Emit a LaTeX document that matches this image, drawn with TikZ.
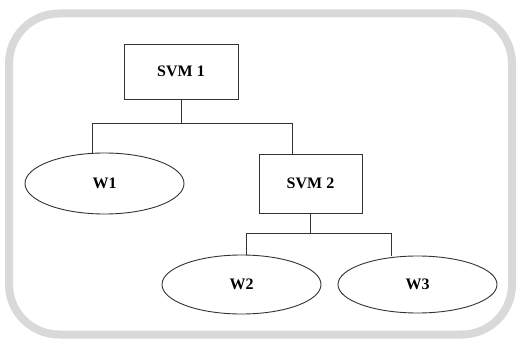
\documentclass[tikz,border=0pt]{standalone}
\usepackage{fontspec}
\setmainfont{Liberation Serif}
\usetikzlibrary{shapes.geometric,shadows}

\tikzset{
  svmbox/.style={draw=black!80,line width=0.9pt,rectangle,inner sep=0pt,font=\fontsize{16}{19}\selectfont\bfseries},
  leaf/.style={draw=black!80,line width=0.9pt,ellipse,inner sep=0pt,minimum width=159pt,font=\fontsize{16}{19}\selectfont\bfseries},
  link/.style={draw=black!80,line width=0.9pt}
}

\begin{document}
\begin{tikzpicture}[x=1pt,y=-1pt]
        \useasboundingbox (0,0) rectangle (521,344);
        % frame
        \draw[black!15,line width=8pt,rounded corners=50pt,fill=white,
              drop shadow={opacity=0.45,shadow xshift=2.5pt,shadow yshift=-2.5pt}]
              (9,13.5) rectangle (512,334.5);

        \node[svmbox,minimum width=114pt,minimum height=55pt] (svm1) at (181,71.5) {SVM 1};
        \node[svmbox,minimum width=103pt,minimum height=59pt] (svm2) at (310.5,183.5) {SVM 2};
        \node[leaf,minimum height=61pt] (w1) at (104.5,183.5) {W1};
        \node[leaf,minimum height=59pt] (w2) at (241.5,284.5) {W2};
        \node[leaf,minimum height=57pt] (w3) at (417.5,284.5) {W3};

        \coordinate (b1) at (92,123);
        \coordinate (b2) at (292,123);
        \coordinate (c1) at (246,233);
        \coordinate (c2) at (391,233);

        \draw[link] (svm1.south) -- (svm1.south |- b1);
        \draw[link] (b1 |- w1.north) -- (b1) -- (b2) -- (b2 |- svm2.north);
        \draw[link] (svm2.south) -- (svm2.south |- c1);
        \draw[link] (c1 |- w2.north) -- (c1) -- (c2) -- (c2 |- w3.north);
      \end{tikzpicture}
\end{document}
